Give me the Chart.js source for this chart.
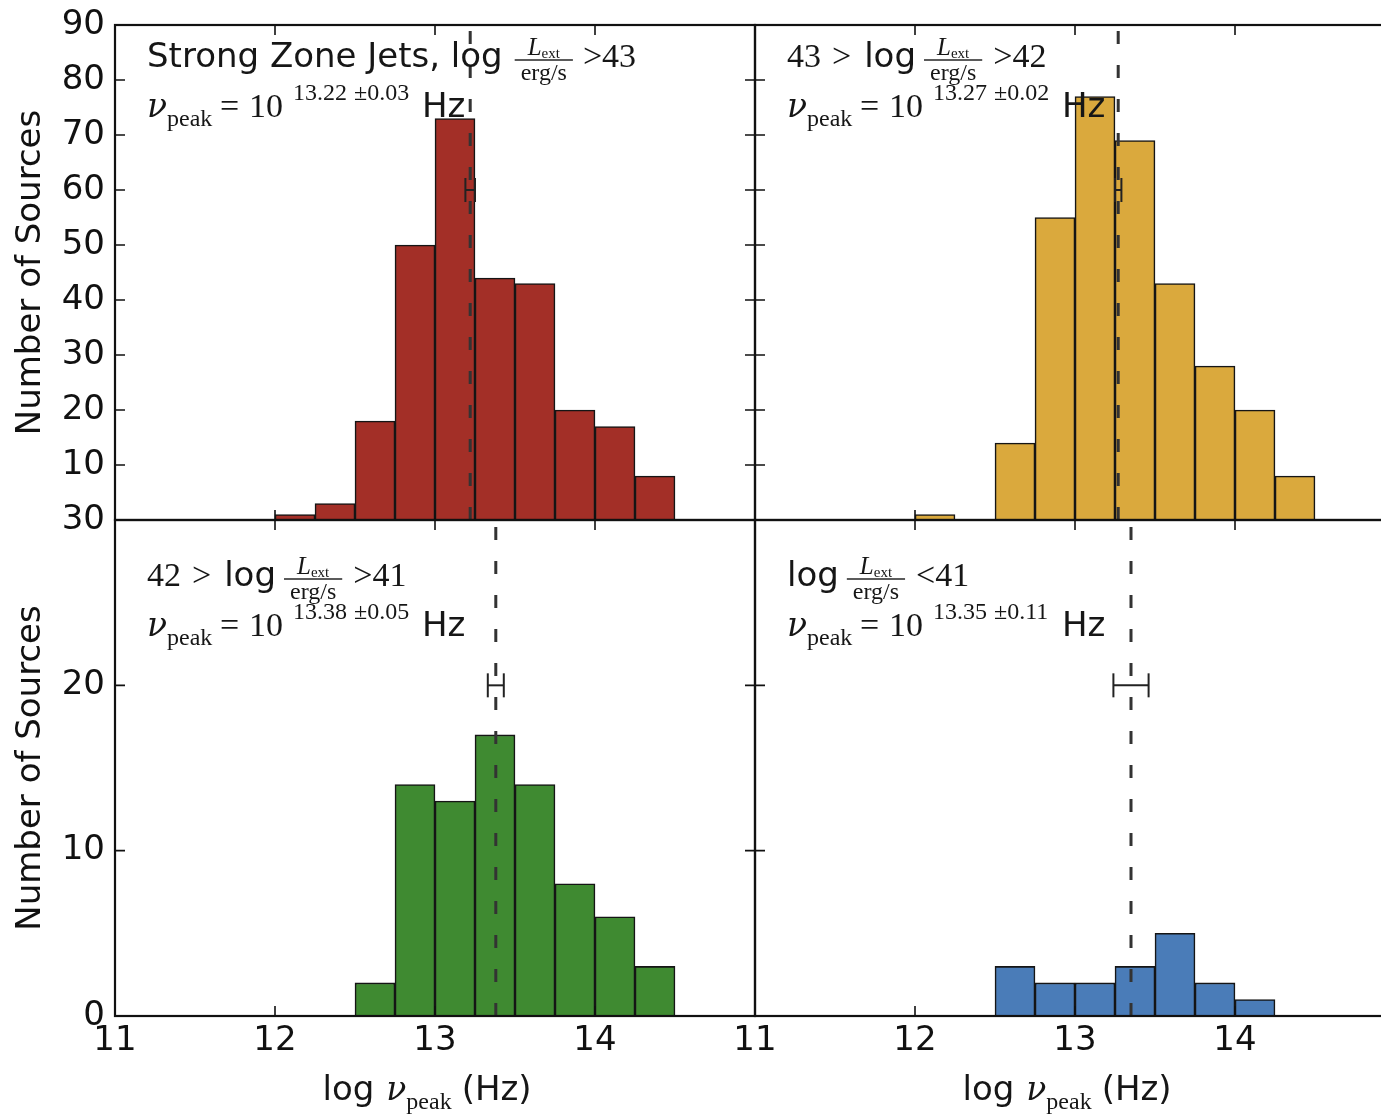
<!DOCTYPE html>
<html><head><meta charset="utf-8">
<script src="https://cdn.jsdelivr.net/npm/chart.js@4.4.1/dist/chart.umd.min.js"></script>
<style>
html,body{margin:0;padding:0;background:#fff;overflow:hidden}
#wrap{position:relative;width:1381px;height:1116px;overflow:hidden;background:#fff}
canvas{position:absolute;left:0;top:0}
</style></head><body><div id="wrap">
<canvas id="c0" width="1420" height="1116"></canvas>
<canvas id="c1" width="1420" height="1116"></canvas>
<canvas id="c2" width="1420" height="1116"></canvas>
<canvas id="c3" width="1420" height="1116"></canvas>
</div>
<script>
// ---------------- data ----------------
const binCenters = [12.125, 12.375, 12.625, 12.875, 13.125, 13.375, 13.625, 13.875, 14.125, 14.375];
const countsStrong = [1, 3, 18, 50, 73, 44, 43, 20, 17, 8];   // log L > 43
const counts42to43 = [1, 0, 14, 55, 77, 69, 43, 28, 20, 8];   // 43 > log L > 42
const counts41to42 = [0, 0, 2, 14, 13, 17, 14, 8, 6, 3];      // 42 > log L > 41
const countsWeak   = [0, 0, 3, 2, 2, 3, 5, 2, 1, 0];          // log L < 41
const peakLog   = [13.22, 13.27, 13.38, 13.35];
const peakErr   = [0.03, 0.02, 0.05, 0.11];
const peakText  = ['13.22', '13.27', '13.38', '13.35'];
const errText   = ['0.03', '0.02', '0.05', '0.11'];
const errBarY   = [60, 60, 20, 20];
const xTickValues = [11, 12, 13, 14, 15];
const xTickLabels = ['11', '12', '13', '14', ''];
const yMaxTop = 90, yMaxBottom = 30;
const yLabel = 'Number of Sources';

// ---------------- styles ----------------
const SANS = '34px "DejaVu Sans"';
const SERIF = '34px "Liberation Serif"';
const NU = 'italic 33px "DejaVu Serif"';
const SM = '24px "Liberation Serif"';
const SM_I = 'italic 25px "Liberation Serif"';
const XS = '15px "Liberation Serif"';
const FRAC_BAR = 7, FRAC_NUM = 5, FRAC_DEN = 20, FRAC_PAD = 6;

function drawRich(ctx, x0, y0, parts, draw) {
  let cx = x0;
  for (const p of parts) {
    if (p.at !== undefined) cx = x0 + p.at;
    if (p.gap) cx += p.gap;
    if (p.frac) {
      const wn = drawRich(ctx, 0, 0, p.num, false);
      const wd = drawRich(ctx, 0, 0, p.den, false);
      const w = Math.max(wn, wd) + 2 * FRAC_PAD;
      if (draw) {
        ctx.fillRect(cx, y0 - FRAC_BAR - 0.7, w, 1.4);
        drawRich(ctx, cx + (w - wn) / 2, y0 - FRAC_BAR - FRAC_NUM, p.num, true);
        drawRich(ctx, cx + (w - wd) / 2, y0 - FRAC_BAR + FRAC_DEN, p.den, true);
      }
      cx += w;
    } else if (p.t) {
      ctx.font = p.f;
      if (draw) ctx.fillText(p.t, cx, y0 + (p.dy || 0));
      cx += ctx.measureText(p.t).width;
    }
  }
  return cx - x0;
}
function fracL() {
  return {frac: true, num: [{t: 'L', f: SM_I}, {t: 'ext', f: XS, dy: 3}], den: [{t: 'erg/s', f: SM}]};
}
const line1 = [
  [{t: 'Strong Zone Jets, log', f: SANS}, {gap: 12}, fracL(), {gap: 10}, {t: '>43', f: SERIF}],
  [{t: '43', f: SERIF}, {gap: 11}, {t: '>', f: SERIF}, {gap: 13}, {t: 'log', f: SANS}, {gap: 8}, fracL(), {gap: 11}, {t: '>42', f: SERIF}],
  [{t: '42', f: SERIF}, {gap: 11}, {t: '>', f: SERIF}, {gap: 13}, {t: 'log', f: SANS}, {gap: 8}, fracL(), {gap: 11}, {t: '>41', f: SERIF}],
  [{t: 'log', f: SANS}, {gap: 8}, fracL(), {gap: 11}, {t: '<41', f: SERIF}]
];
function line2(i) {
  return [{t: 'ν', f: NU}, {t: 'peak', f: SM, dy: 9}, {at: 73, t: '=', f: SERIF},
          {at: 102, t: '10', f: SERIF}, {at: 146, t: peakText[i], f: SM, dy: -17},
          {gap: 7, t: '±' + errText[i], f: SM, dy: -17}, {at: 275, t: 'Hz', f: SANS}];
}
const xTitle = [{t: 'log', f: SANS}, {gap: 12, t: 'ν', f: NU}, {t: 'peak', f: SM, dy: 9}, {gap: 10, t: '(Hz)', f: SANS}];

const panels = [
  {counts: countsStrong, color: '#a32f27', yMax: yMaxTop, left: 115, top: 25, right: 755, bottom: 520, yLab: true, xLab: false, l1: 67, l2: 117},
  {counts: counts42to43, color: '#daa93d', yMax: yMaxTop, left: 755, top: 25, right: 1395, bottom: 520, yLab: false, xLab: false, l1: 67, l2: 117},
  {counts: counts41to42, color: '#3f8a31', yMax: yMaxBottom, left: 115, top: 520, right: 755, bottom: 1016, yLab: true, xLab: true, l1: 586, l2: 636},
  {counts: countsWeak, color: '#4a7cb8', yMax: yMaxBottom, left: 755, top: 520, right: 1395, bottom: 1016, yLab: false, xLab: true, l1: 586, l2: 636}
];
const CW = 1420, CH = 1116;
function zeroPad(s) { s.paddingTop = 0; s.paddingBottom = 0; s.paddingLeft = 0; s.paddingRight = 0; }

panels.forEach((P, i) => {
  const yAxisW = P.yLab ? 104 : 0;
  const xAxisH = P.xLab ? 100 : 0;
  const frame = {
    id: 'frame' + i,
    afterDatasetsDraw(chart) {
      const {ctx, chartArea: a, scales: {x, y}} = chart;
      ctx.save();
      ctx.strokeStyle = '#111';
      ctx.lineWidth = 1.6;
      const T = 10;
      ctx.beginPath();
      for (const t of x.ticks) {
        const px = x.getPixelForValue(t.value);
        ctx.moveTo(px, a.bottom); ctx.lineTo(px, a.bottom - T);
        ctx.moveTo(px, a.top); ctx.lineTo(px, a.top + T);
      }
      for (const t of y.ticks) {
        const py = y.getPixelForValue(t.value);
        ctx.moveTo(a.left, py); ctx.lineTo(a.left + T, py);
        ctx.moveTo(a.right, py); ctx.lineTo(a.right - T, py);
      }
      ctx.stroke();
      ctx.lineWidth = 2.2;
      ctx.strokeRect(a.left, a.top, a.right - a.left, a.bottom - a.top);
      ctx.restore();
    },
    afterDraw(chart) {
      const {ctx, chartArea: a} = chart;
      ctx.save();
      ctx.textBaseline = 'alphabetic';
      ctx.textAlign = 'left';
      ctx.fillStyle = '#161616';
      drawRich(ctx, a.left + 32, P.l1, line1[i], true);
      drawRich(ctx, a.left + 32, P.l2, line2(i), true);
      if (P.xLab) {
        const w = drawRich(ctx, 0, 0, xTitle, false);
        drawRich(ctx, (a.left + a.right) / 2 - 8 - w / 2, 1100, xTitle, true);
      }
      ctx.restore();
    }
  };
  new Chart(document.getElementById('c' + i), {
    type: 'bar',
    data: {
      datasets: [
        {
          type: 'line', order: 0,
          data: [{x: peakLog[i] - peakErr[i], y: errBarY[i]}, {x: peakLog[i] + peakErr[i], y: errBarY[i]}],
          borderColor: '#222', borderWidth: 2,
          pointStyle: 'line', pointRotation: 90, pointRadius: 12,
          pointBorderColor: '#222', pointBorderWidth: 2
        },
        {
          type: 'line', order: 1,
          data: [{x: peakLog[i], y: 0}, {x: peakLog[i], y: P.yMax}],
          borderColor: '#333', borderWidth: 3, borderDash: [13, 21], pointRadius: 0
        },
        {
          type: 'bar', order: 2,
          data: binCenters.map((c, k) => ({x: c, y: P.counts[k]})),
          backgroundColor: P.color, borderColor: '#151515', borderWidth: 1.6,
          categoryPercentage: 1, barPercentage: 1
        }
      ]
    },
    options: {
      responsive: false, animation: false, devicePixelRatio: 1,
      layout: {autoPadding: false,
               padding: {left: P.left - yAxisW, top: P.top, right: CW - P.right, bottom: CH - P.bottom - xAxisH}},
      plugins: {legend: {display: false}, tooltip: {enabled: false}},
      scales: {
        x: {
          type: 'linear', min: 11, max: 15, offset: false,
          afterBuildTicks: s => { s.ticks = xTickValues.map(v => ({value: v})); },
          afterFit: s => { s.height = xAxisH; zeroPad(s); },
          grid: {display: false, drawTicks: false},
          border: {display: false},
          ticks: {display: P.xLab, padding: 5, color: '#111', font: {family: 'DejaVu Sans', size: 34},
                  maxRotation: 0, autoSkip: false,
                  callback: v => xTickLabels[xTickValues.indexOf(v)]}
        },
        y: {
          type: 'linear', min: 0, max: P.yMax,
          afterFit: s => { s.width = yAxisW; zeroPad(s); },
          grid: {display: false, drawTicks: false},
          border: {display: false},
          title: {display: P.yLab, text: yLabel, color: '#111', padding: 0,
                  font: {family: 'DejaVu Sans', size: 34}},
          ticks: {display: P.yLab, stepSize: 10, padding: 10, color: '#111', autoSkip: false,
                  font: {family: 'DejaVu Sans', size: 34},
                  callback: v => (P.yMax === yMaxTop && v === 0) ? '' : String(v)}
        }
      }
    },
    plugins: [frame]
  });
});
</script>
</body></html>
